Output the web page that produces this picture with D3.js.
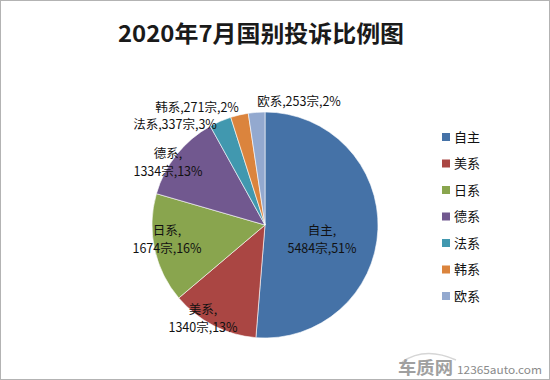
<!DOCTYPE html>
<html><head><meta charset="utf-8">
<script src="https://cdn.jsdelivr.net/npm/d3@7"></script>
<style>body{margin:0;background:#fff}svg{display:block}text{font-family:"Noto Sans CJK SC","Microsoft YaHei",sans-serif}</style>
</head><body><svg id="c" width="550" height="380"></svg>
<script>
const title = "2020年7月国别投诉比例图";
const categories = ["自主","美系","日系","德系","法系","韩系","欧系"];
const values = [5484,1340,1674,1334,337,271,253];
const percents = ["51%","13%","16%","13%","3%","2%","2%"];
const colors = ["#4572A7","#AA4643","#89A54E","#71588F","#4198AF","#DB843D","#93A9CF"];
// label layout: [x, y, twoLines]
const labelPos = [[322,230,true],[203,309,true],[167,230,true],[168,153,true],[175,124.5,false],[197,107,false],[299,101,false]];

const svg = d3.select("#c");
svg.append("rect").attr("x",0.5).attr("y",0.5).attr("width",549).attr("height",379).attr("fill","#fff").attr("stroke","#b3b3b3");
svg.append("text").attr("x",261).attr("y",42).attr("text-anchor","middle").attr("font-size",23).attr("font-weight",700).attr("fill","#1a1a1a").attr("textLength",286).attr("lengthAdjust","spacingAndGlyphs").text(title);

const cx=265, cy=225, r=113;
const pie = d3.pie().sort(null).value(d=>d)(values);
const arc = d3.arc().innerRadius(0).outerRadius(r);
const g = svg.append("g").attr("transform",`translate(${cx},${cy})`);
g.selectAll("path").data(pie).join("path").attr("d",arc).attr("fill",(d,i)=>colors[i]).attr("stroke","#fff").attr("stroke-width",0.6);

const lg = svg.append("g");
categories.forEach((c,i)=>{
  const [x,y,two]=labelPos[i];
  const t = lg.append("text").attr("text-anchor","middle").attr("font-size",12.5).attr("fill","#111");
  if(two){
    t.append("tspan").attr("x",x).attr("y",y+4.5).text(c+",");
    t.append("tspan").attr("x",x).attr("y",y+22.5).text(values[i]+"宗,"+percents[i]);
  } else {
    t.append("tspan").attr("x",x).attr("y",y+4.5).text(c+","+values[i]+"宗,"+percents[i]);
  }
});

const leg = svg.append("g");
categories.forEach((c,i)=>{
  const y = 137 + i*26.5;
  leg.append("rect").attr("x",442).attr("y",y-4).attr("width",8).attr("height",8).attr("fill",colors[i]);
  leg.append("text").attr("x",454).attr("y",y+4.5).attr("font-size",13).attr("fill","#111").text(c);
});

// watermark
svg.append("path").attr("d","M402,362 Q425,346 456,360").attr("fill","none").attr("stroke","#d6d6d6").attr("stroke-width",1.5);
svg.append("text").attr("x",398).attr("y",374).attr("font-size",17).attr("font-weight",700).attr("fill","#a0a0a0").attr("textLength",55).attr("lengthAdjust","spacingAndGlyphs").text("车质网");
svg.append("text").attr("x",457).attr("y",374).attr("font-size",11).attr("fill","#8a8a8a").attr("textLength",85).attr("lengthAdjust","spacingAndGlyphs").text("12365auto.com");
</script></body></html>
